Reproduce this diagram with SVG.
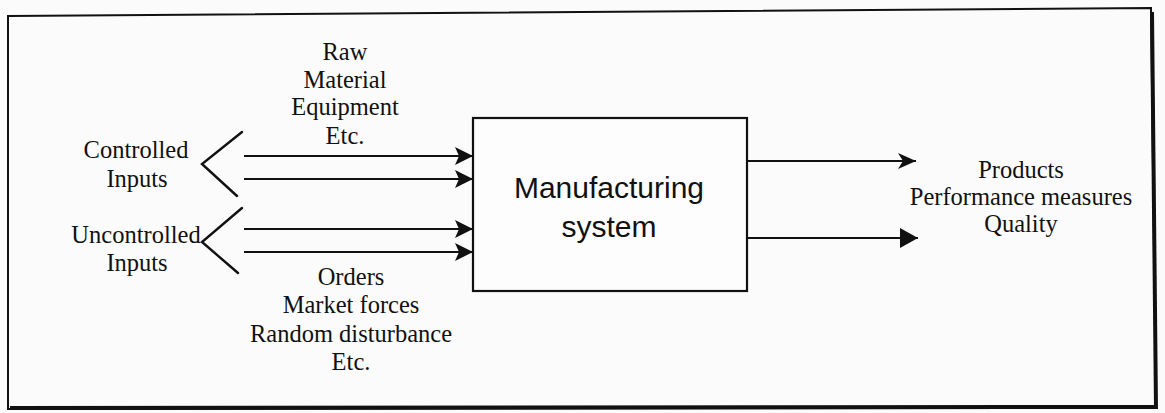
<svg xmlns="http://www.w3.org/2000/svg" width="1165" height="413" viewBox="0 0 1165 413">
  <style>
    .lbl { font-family: "Liberation Serif", "Times New Roman", serif; font-size: 24.5px; fill: #111; text-anchor: middle; }
    .main { font-family: "Liberation Sans", Arial, sans-serif; font-size: 30px; fill: #111; text-anchor: middle; }
    .ln { stroke: #111; stroke-width: 2.2; fill: none; }
    .chev { stroke: #111; stroke-width: 2.4; fill: none; stroke-linecap: round; stroke-linejoin: miter; }
  </style>
  <defs>
    <marker id="headIn" markerWidth="18" markerHeight="20" refX="18" refY="10" orient="auto" markerUnits="userSpaceOnUse">
      <path d="M0,1 L18,10 L0,19 L4,10 Z" fill="#111"/>
    </marker>
    <marker id="headOut" markerWidth="18" markerHeight="20" refX="18" refY="10" orient="auto" markerUnits="userSpaceOnUse">
      <path d="M0,0 L18,10 L0,20 Z" fill="#111"/>
    </marker>
    <marker id="headOutThin" markerWidth="18" markerHeight="18" refX="18" refY="9" orient="auto" markerUnits="userSpaceOnUse">
      <path d="M0,1 L18,9 L0,17 L5,9 Z" fill="#111"/>
    </marker>
  </defs>

  <rect x="0" y="0" width="1165" height="413" fill="#fbfbfb"/>

  <!-- outer frame -->
  <g id="frame">
    <polygon points="8,16 1151,8 1156,408 8,409" fill="none" stroke="#111" stroke-width="2"/>
    <line x1="1152" y1="12" x2="1156" y2="409" stroke="#111" stroke-width="4"/>
    <line x1="10" y1="408" x2="1156" y2="407" stroke="#111" stroke-width="4"/>
  </g>

  <!-- central process block -->
  <g id="manufacturing-system">
    <rect x="473" y="118" width="274" height="173" fill="#fdfdfd" stroke="#111" stroke-width="2.2"/>
    <text class="main" x="609" y="198">Manufacturing</text>
    <text class="main" x="609" y="237">system</text>
  </g>

  <g id="controlled-inputs">
    <text class="lbl" x="136" y="158">Controlled</text>
    <text class="lbl" x="137" y="187">Inputs</text>
    <polyline class="chev" points="242,132 202,164 237,196"/>
  </g>

  <g id="uncontrolled-inputs">
    <text class="lbl" x="136" y="243">Uncontrolled</text>
    <text class="lbl" x="137" y="271">Inputs</text>
    <polyline class="chev" points="242,208 202,242 238,273"/>
  </g>

  <g id="controlled-examples">
    <text class="lbl" x="345" y="60">Raw</text>
    <text class="lbl" x="345" y="88">Material</text>
    <text class="lbl" x="345" y="115">Equipment</text>
    <text class="lbl" x="345" y="144">Etc.</text>
  </g>

  <g id="uncontrolled-examples">
    <text class="lbl" x="351" y="285">Orders</text>
    <text class="lbl" x="351" y="313">Market forces</text>
    <text class="lbl" x="351" y="342">Random disturbance</text>
    <text class="lbl" x="351" y="370">Etc.</text>
  </g>

  <g id="outputs">
    <text class="lbl" x="1021" y="178">Products</text>
    <text class="lbl" x="1021" y="205">Performance measures</text>
    <text class="lbl" x="1021" y="232">Quality</text>
  </g>

  <!-- connectors -->
  <g id="connectors">
    <line class="ln" x1="244" y1="156" x2="473" y2="156" marker-end="url(#headIn)"/>
    <line class="ln" x1="244" y1="179" x2="473" y2="179" marker-end="url(#headIn)"/>
    <line class="ln" x1="244" y1="229" x2="473" y2="229" marker-end="url(#headIn)"/>
    <line class="ln" x1="244" y1="252" x2="473" y2="252" marker-end="url(#headIn)"/>
    <line class="ln" x1="747" y1="161" x2="916" y2="161" marker-end="url(#headOutThin)"/>
    <line class="ln" x1="747" y1="238" x2="918" y2="238" marker-end="url(#headOut)"/>
  </g>
</svg>
